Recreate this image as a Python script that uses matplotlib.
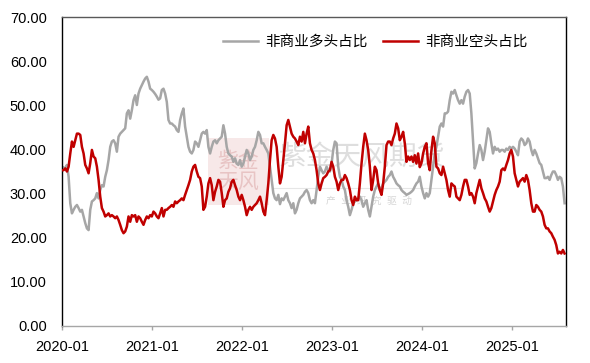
import matplotlib
matplotlib.use("Agg")
import matplotlib.pyplot as plt
import matplotlib.dates as mdates
import matplotlib.patches as mpatches
import pandas as pd

plt.rcParams['font.family'] = ['Liberation Sans', 'Noto Sans CJK SC']

# weekly positioning data (%), 2020-01 .. 2025-08
start_date = '2020-01-01'
end_date = '2025-08-02'
long_label = '非商业多头占比'
short_label = '非商业空头占比'

long_share = [
    36.1, 35.9, 35.7, 36.5, 33.8, 27.8, 25.5, 26.3, 27.0, 27.4, 26.7, 25.9, 26.3, 24.8, 23.3, 22.1, 21.7, 26.3,
    28.2, 28.5, 28.9, 30.1, 28.9, 30.8, 31.9, 31.6, 33.8, 35.3, 37.6, 40.6, 41.8, 42.1, 41.4, 39.5, 42.9, 43.6,
    44.0, 44.4, 44.8, 48.2, 48.9, 47.0, 48.9, 51.2, 52.3, 50.1, 52.7, 53.8, 54.6, 55.4, 56.1, 56.5, 55.4, 53.8,
    53.5, 53.1, 52.6, 52.0, 51.3, 51.6, 53.5, 53.8, 52.7, 50.8, 46.7, 45.9, 45.9, 45.5, 45.2, 44.4, 44.0,
    46.7, 48.2, 49.3, 45.2, 42.9, 40.6, 39.5, 39.1, 39.9, 41.8, 41.4, 40.6, 42.1, 43.6, 44.0, 43.6, 44.4, 40.6,
    39.1, 40.6, 41.8, 42.1, 41.4, 42.1, 42.5, 42.9, 45.5, 43.6, 40.6, 39.1, 38.7, 38.4, 37.2, 38.0, 36.8, 36.5,
    37.6, 36.1, 36.8, 38.4, 39.9, 39.1, 37.6, 38.4, 39.9, 40.6, 42.1, 44.0, 43.3, 41.4, 41.4, 40.6, 39.9, 39.1,
    36.1, 33.1, 30.1, 28.9, 28.5, 29.7, 27.6, 28.9, 28.5, 29.3, 30.1, 28.5, 27.8, 26.7, 27.8, 25.5, 26.3, 27.8,
    28.9, 29.3, 29.7, 30.4, 30.8, 30.1, 28.5, 27.8, 28.5, 27.8, 30.8, 33.8, 36.1, 35.3, 34.6, 35.0, 36.1, 35.3,
    35.0, 36.8, 39.9, 41.8, 41.4, 36.1, 33.8, 33.1, 31.6, 30.8, 28.5, 27.0, 25.1, 26.3, 27.8, 28.2, 28.5, 28.9,
    29.3, 28.5, 27.0, 27.8, 28.5, 26.3, 24.8, 27.0, 29.3, 30.8, 31.6, 32.3, 30.8, 31.2, 32.3, 32.7, 33.1, 33.8,
    34.2, 35.0, 33.8, 33.1, 32.3, 31.9, 31.6, 30.8, 30.4, 30.1, 29.7, 29.9, 30.1, 30.4, 30.8, 31.6, 32.3, 32.7,
    33.8, 31.6, 30.1, 28.9, 30.1, 29.3, 30.1, 33.1, 36.1, 39.1, 40.6, 42.9, 45.2, 45.9, 45.2, 48.2, 48.2, 48.6,
    51.2, 53.1, 52.7, 53.5, 52.3, 51.2, 50.4, 51.2, 50.4, 52.0, 53.1, 53.5, 52.7, 48.2, 42.1, 35.7, 36.9, 39.1,
    41.0, 39.9, 37.6, 39.5, 42.1, 44.8, 44.0, 41.4, 39.1, 40.6, 39.9, 40.2, 39.5, 39.9, 39.9, 39.5, 40.2, 39.9,
    40.6, 40.2, 40.6, 40.2, 39.5, 38.7, 41.8, 42.5, 42.1, 41.0, 41.4, 42.5, 41.8, 39.9, 38.7, 39.9, 39.1, 38.0,
    36.9, 36.5, 35.0, 33.5, 33.5, 33.8, 33.1, 34.2, 35.0, 35.0, 34.2, 33.1, 33.8, 33.5, 31.6, 27.8,
]

short_share = [
    35.3, 35.3, 35.7, 35.0, 36.1, 39.1, 41.8, 40.6, 42.1, 43.6, 43.6, 43.3, 40.6, 39.1, 36.5, 35.7, 34.6, 36.9,
    39.9, 38.4, 38.0, 36.1, 33.1, 29.3, 26.7, 25.9, 24.8, 25.1, 25.5, 24.8, 25.1, 24.8, 24.4, 24.8, 24.0, 22.9,
    21.7, 21.0, 21.4, 22.5, 24.8, 23.6, 25.1, 24.8, 25.1, 23.6, 24.8, 24.4, 23.6, 22.9, 24.0, 24.8, 24.4, 25.1,
    24.8, 25.9, 25.5, 24.8, 24.4, 25.5, 26.7, 24.8, 26.3, 26.3, 26.7, 27.0, 27.4, 27.0, 28.2, 27.8, 28.2,
    28.5, 28.9, 28.5, 29.7, 30.8, 31.9, 33.1, 35.0, 36.1, 36.5, 35.0, 33.8, 33.5, 31.6, 26.3, 27.0, 29.3, 32.3,
    33.5, 31.9, 28.5, 30.4, 31.6, 33.1, 32.7, 30.1, 27.0, 28.5, 28.9, 30.4, 31.2, 32.7, 33.1, 31.9, 30.8, 29.3,
    28.5, 29.7, 28.5, 27.0, 25.1, 26.3, 27.0, 26.3, 27.0, 27.4, 27.8, 28.5, 29.3, 27.8, 25.9, 25.1, 28.5, 32.3,
    37.6, 42.1, 43.3, 42.5, 40.6, 36.1, 32.3, 33.8, 37.6, 41.4, 45.5, 46.7, 45.2, 43.6, 42.9, 42.5, 41.8, 41.0,
    42.9, 41.8, 44.0, 41.4, 43.6, 45.2, 41.4, 39.9, 39.1, 37.6, 35.3, 32.3, 30.8, 32.3, 33.5, 33.8, 34.2, 35.0,
    35.3, 37.2, 36.1, 33.8, 32.7, 30.8, 32.3, 33.1, 33.1, 34.2, 33.5, 32.3, 30.8, 28.5, 27.4, 29.3, 28.5, 28.5,
    32.3, 36.8, 40.6, 43.6, 42.1, 39.9, 36.1, 30.8, 33.1, 36.1, 35.3, 32.3, 30.8, 29.7, 32.3, 36.1, 41.0, 41.8,
    41.8, 41.0, 42.5, 43.6, 45.9, 44.8, 42.1, 42.9, 44.0, 41.4, 37.2, 38.4, 37.6, 38.4, 37.2, 38.7, 36.8, 39.1,
    36.0, 36.9, 39.1, 40.6, 41.4, 36.9, 35.3, 39.8, 42.9, 41.4, 36.1, 35.7, 34.6, 34.2, 36.1, 34.6, 33.1, 30.8,
    29.3, 32.3, 31.9, 31.6, 29.3, 28.9, 28.5, 29.7, 31.6, 33.1, 33.1, 31.6, 29.7, 30.1, 29.3, 27.8, 30.1, 31.6,
    33.1, 31.2, 30.1, 28.9, 28.2, 27.0, 25.9, 26.7, 28.2, 29.7, 30.8, 31.6, 32.7, 35.3, 35.7, 35.3, 36.5, 37.6,
    39.1, 39.9, 38.4, 34.6, 33.1, 31.6, 32.7, 33.1, 33.5, 32.7, 34.2, 33.1, 30.8, 27.8, 25.9, 25.9, 27.4, 27.0,
    26.3, 25.9, 24.8, 22.9, 22.1, 22.1, 21.4, 21.0, 20.2, 19.5, 18.3, 16.4, 16.8, 16.4, 17.2, 16.4,
]

dates_long = pd.date_range(start_date, end_date, periods=len(long_share))
dates_short = pd.date_range(start_date, end_date, periods=len(short_share))

fig = plt.figure(figsize=(5.9, 3.63), dpi=100)
ax = fig.add_axes([0.105, 0.1027, 0.854, 0.8496])

# faint watermark behind the data
ax.add_patch(mpatches.Rectangle((0.29, 0.39), 0.12, 0.22, transform=ax.transAxes,
                                facecolor='#f3dada', edgecolor='none', alpha=0.6, zorder=0))
ax.text(0.35, 0.50, '紫金\n天风', transform=ax.transAxes, ha='center', va='center',
        fontsize=15, color='#e8c4c4', zorder=0, linespacing=1.1)
ax.text(0.595, 0.545, '紫金天风期货', transform=ax.transAxes, ha='center', va='center',
        fontsize=20, color='#dedede', zorder=0)
ax.plot([0.42, 0.79], [0.447, 0.447], transform=ax.transAxes, color='#e6e6e6', lw=0.8, zorder=0)
ax.text(0.61, 0.405, '产  业  研  究  驱  动', transform=ax.transAxes, ha='center', va='center',
        fontsize=7, color='#d6d6d6', zorder=0)

ax.plot(dates_long, long_share, color='#a6a6a6', lw=1.8, label=long_label, zorder=2)
ax.plot(dates_short, short_share, color='#c00000', lw=1.8, label=short_label, zorder=3)

ax.set_ylim(0, 70)
ax.set_yticks(range(0, 71, 10))
ax.yaxis.set_major_formatter(matplotlib.ticker.FormatStrFormatter('%.2f'))
ax.set_xlim(pd.Timestamp('2020-01-01'), pd.Timestamp('2025-08-07'))
ax.xaxis.set_major_locator(mdates.YearLocator())
ax.xaxis.set_major_formatter(mdates.DateFormatter('%Y-%m'))

ax.tick_params(axis='y', length=0, pad=11, labelsize=10.5)
ax.tick_params(axis='x', length=3, width=1, color='#a6a6a6', pad=7, labelsize=10.5)

ax.spines['left'].set_color('#000000')
ax.spines['right'].set_color('#000000')
ax.spines['top'].set_color('#595959')
ax.spines['bottom'].set_color('#a6a6a6')
for s in ax.spines.values():
    s.set_linewidth(1)

ax.legend(loc='center right', bbox_to_anchor=(0.925, 0.921), ncol=2, frameon=False,
          fontsize=10.5, handlelength=2.4, handletextpad=0.5, columnspacing=1.05,
          borderpad=0, borderaxespad=0)

fig.savefig('out.png', dpi=100)
